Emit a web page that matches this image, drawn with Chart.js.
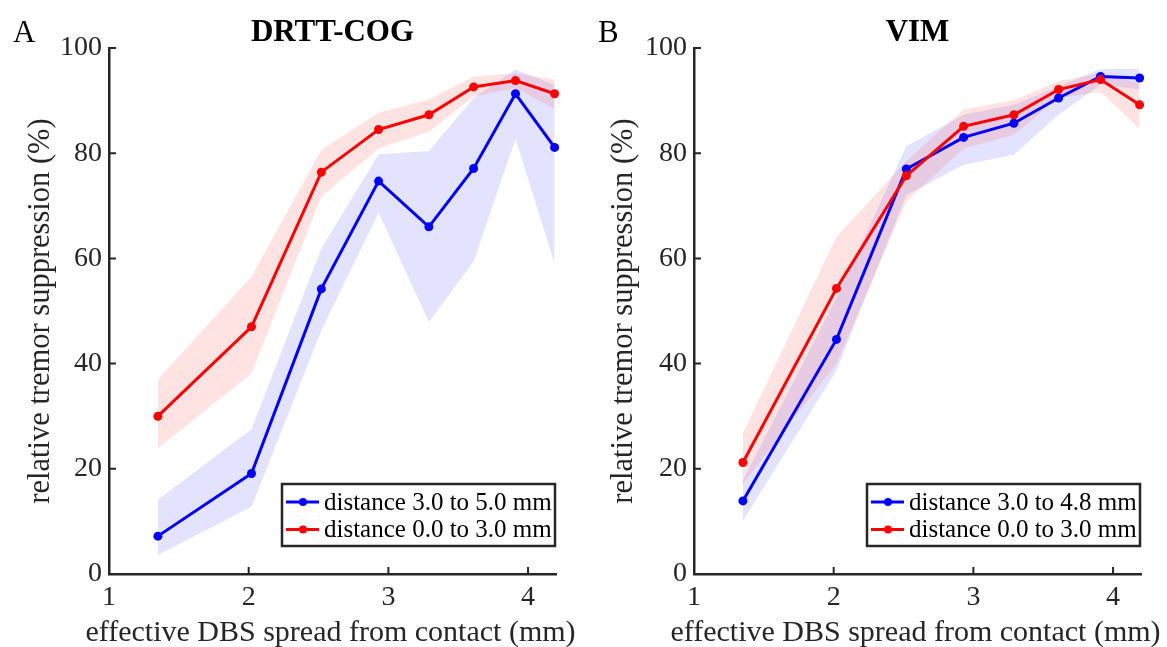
<!DOCTYPE html>
<html>
<head>
<meta charset="utf-8">
<script src="https://cdn.jsdelivr.net/npm/chart.js@4.4.0/dist/chart.umd.min.js"></script>
<style>
  html, body { margin: 0; padding: 0; background: #fff; }
  #wrap { position: relative; width: 1167px; height: 647px; }
  canvas { position: absolute; top: 0; }
</style>
</head>
<body>
<div id="wrap">
  <canvas id="chartDrtt" width="583" height="647" style="left:0;width:583px;height:647px"></canvas>
  <canvas id="chartVim" width="584" height="647" style="left:583px;width:584px;height:647px"></canvas>
</div>
<script>
// effective DBS spread (mm), shared by both panels
const SPREAD_MM = [1.35, 2.02, 2.52, 2.93, 3.29, 3.61, 3.91, 4.19];
const X_TICKS = [1, 2, 3, 4];
const X_TITLE = 'effective DBS spread from contact (mm)';
const Y_TITLE = 'relative tremor suppression (%)';

// panel A: DRTT-COG
const DRTT_FAR_MEAN = [7.2, 19.1, 54.2, 74.7, 66.0, 77.1, 91.3, 81.1];
const DRTT_FAR_LO = [3.6, 12.8, 46.3, 68.7, 47.9, 59.4, 82.7, 59.0];
const DRTT_FAR_HI = [14.1, 27.5, 61.9, 79.8, 80.4, 90.5, 95.9, 93.0];
const DRTT_NEAR_MEAN = [30.0, 47.0, 76.4, 84.5, 87.3, 92.6, 93.8, 91.3];
const DRTT_NEAR_LO = [23.9, 38.1, 71.7, 80.9, 84.1, 90.8, 92.4, 88.4];
const DRTT_NEAR_HI = [37.0, 56.5, 80.6, 87.7, 90.2, 94.6, 95.2, 94.0];

// panel B: VIM
const VIM_FAR_MEAN = [13.9, 44.6, 77.0, 83.0, 85.7, 90.5, 94.6, 94.3];
const VIM_FAR_LO = [10.1, 38.7, 72.0, 77.8, 79.7, 87.3, 93.0, 92.1];
const VIM_FAR_HI = [17.8, 52.5, 81.3, 87.3, 89.2, 92.7, 96.0, 96.0];
const VIM_NEAR_MEAN = [21.2, 54.3, 75.7, 85.1, 87.3, 92.1, 94.0, 89.2];
const VIM_NEAR_LO = [17.1, 40.0, 70.8, 80.9, 83.5, 90.5, 91.7, 84.6];
const VIM_NEAR_HI = [26.8, 64.1, 78.5, 88.3, 90.1, 93.7, 95.2, 93.3];

const BLUE = '#0000ff';
const RED = '#ff0000';
const BLUE_BAND = 'rgba(0, 0, 255, 0.11)';
const RED_BAND = 'rgba(255, 0, 0, 0.11)';
const AXIS_COLOR = '#262626';
const SERIF = "'Liberation Serif', 'Times New Roman', serif";
const TICK_LEN = 7;

const toPoints = (values) => values.map((y, i) => ({ x: SPREAD_MM[i], y }));

function lineSet(label, values, color, order) {
  return {
    label,
    data: toPoints(values),
    borderColor: color,
    backgroundColor: color,
    borderWidth: 3,
    pointRadius: 4.5,
    pointBorderWidth: 0,
    pointBackgroundColor: color,
    fill: false,
    clip: false,
    order,
  };
}

function bandSets(lo, hi, color, order) {
  return [
    { band: true, data: toPoints(hi), borderWidth: 0, pointRadius: 0, backgroundColor: color, fill: '+1', order },
    { band: true, data: toPoints(lo), borderWidth: 0, pointRadius: 0, backgroundColor: color, fill: false, order },
  ];
}

// letter, title, x label, inward ticks and the framed legend in the lower right
const panelDecor = {
  id: 'panelDecor',
  afterDatasetsDraw(chart, args, opts) {
    const { ctx, chartArea, scales } = chart;
    ctx.save();
    ctx.strokeStyle = AXIS_COLOR;
    ctx.lineWidth = 2;
    ctx.beginPath();
    scales.x.ticks.forEach((t) => {
      const px = scales.x.getPixelForValue(t.value);
      ctx.moveTo(px, chartArea.bottom);
      ctx.lineTo(px, chartArea.bottom - TICK_LEN);
    });
    scales.y.ticks.forEach((t) => {
      const py = scales.y.getPixelForValue(t.value);
      ctx.moveTo(chartArea.left, py);
      ctx.lineTo(chartArea.left + TICK_LEN, py);
    });
    ctx.stroke();

    // legend box
    const boxW = 273;
    const boxH = 62;
    const bx = chartArea.right - boxW - 1;
    const by = chartArea.bottom - 28 - boxH;
    ctx.fillStyle = '#fff';
    ctx.fillRect(bx, by, boxW, boxH);
    ctx.lineWidth = 2.5;
    ctx.strokeRect(bx, by, boxW, boxH);
    const entries = chart.data.datasets.filter((ds) => !ds.band);
    ctx.font = `25px ${SERIF}`;
    ctx.textBaseline = 'middle';
    ctx.textAlign = 'left';
    entries.forEach((ds, i) => {
      const ry = by + 18 + i * 27.5;
      ctx.strokeStyle = ds.borderColor;
      ctx.lineWidth = 3;
      ctx.beginPath();
      ctx.moveTo(bx + 4, ry);
      ctx.lineTo(bx + 37, ry);
      ctx.stroke();
      ctx.fillStyle = ds.borderColor;
      ctx.beginPath();
      ctx.arc(bx + 21, ry, 4, 0, Math.PI * 2);
      ctx.fill();
      ctx.fillStyle = '#000';
      ctx.fillText(ds.label, bx + 42, ry + 1);
    });

    // x axis label (wider than the plot, so not squeezed into it)
    ctx.fillStyle = AXIS_COLOR;
    ctx.textAlign = 'center';
    ctx.textBaseline = 'alphabetic';
    ctx.font = `30px ${SERIF}`;
    ctx.fillText(X_TITLE, (chartArea.left + chartArea.right) / 2 - 2, 641);

    // panel letter and title
    ctx.fillStyle = '#000';
    ctx.textAlign = 'left';
    ctx.font = `31px ${SERIF}`;
    ctx.fillText(opts.letter, opts.letterX, 42);
    ctx.font = `bold 31px ${SERIF}`;
    ctx.textAlign = 'center';
    ctx.fillText(opts.title, (chartArea.left + chartArea.right) / 2, 41);
    ctx.restore();
  },
};

function makePanel(canvasId, cfg) {
  const canvas = document.getElementById(canvasId);
  if (!canvas) {
    return;
  }
  const tickFont = { family: SERIF, size: 28 };

  new Chart(canvas.getContext('2d'), {
    type: 'line',
    data: {
      datasets: [
        lineSet(cfg.farLabel, cfg.farMean, BLUE, 2),
        lineSet('distance 0.0 to 3.0 mm', cfg.nearMean, RED, 1),
        ...bandSets(cfg.farLo, cfg.farHi, BLUE_BAND, 4),
        ...bandSets(cfg.nearLo, cfg.nearHi, RED_BAND, 3),
      ],
    },
    options: {
      responsive: false,
      animation: false,
      layout: { padding: { left: 0, right: cfg.padRight, top: 48, bottom: 0 } },
      elements: { line: { tension: 0 } },
      plugins: {
        legend: { display: false },
        tooltip: { enabled: false },
        panelDecor: { letter: cfg.letter, letterX: cfg.letterX, title: cfg.title },
      },
      scales: {
        x: {
          type: 'linear',
          min: 1,
          max: 4.2,
          afterBuildTicks(scale) {
            scale.ticks = X_TICKS.map((value) => ({ value }));
          },
          afterFit(scale) {
            scale.height = 73;
          },
          grid: { display: false, drawTicks: false },
          border: { display: true, color: AXIS_COLOR, width: 2.5 },
          ticks: { font: tickFont, color: AXIS_COLOR, padding: 7, maxRotation: 0 },
        },
        y: {
          min: 0,
          max: 100,
          afterFit(scale) {
            scale.width = cfg.yWidth;
          },
          grid: { display: false, drawTicks: false },
          border: { display: true, color: AXIS_COLOR, width: 2.5 },
          ticks: { stepSize: 20, font: tickFont, color: AXIS_COLOR, padding: 7 },
          title: {
            display: true,
            text: Y_TITLE,
            font: { family: SERIF, size: 30.5, lineHeight: 1 },
            color: AXIS_COLOR,
            padding: { top: 26, bottom: 0 },
          },
        },
      },
    },
    plugins: [panelDecor],
  });
}

makePanel('chartDrtt', {
  letter: 'A',
  letterX: 13,
  title: 'DRTT-COG',
  farLabel: 'distance 3.0 to 5.0 mm',
  farMean: DRTT_FAR_MEAN,
  farLo: DRTT_FAR_LO,
  farHi: DRTT_FAR_HI,
  nearMean: DRTT_NEAR_MEAN,
  nearLo: DRTT_NEAR_LO,
  nearHi: DRTT_NEAR_HI,
  yWidth: 109,
  padRight: 27,
});

makePanel('chartVim', {
  letter: 'B',
  letterX: 15,
  title: 'VIM',
  farLabel: 'distance 3.0 to 4.8 mm',
  farMean: VIM_FAR_MEAN,
  farLo: VIM_FAR_LO,
  farHi: VIM_FAR_HI,
  nearMean: VIM_NEAR_MEAN,
  nearLo: VIM_NEAR_LO,
  nearHi: VIM_NEAR_HI,
  yWidth: 111,
  padRight: 26,
});
</script>
</body>
</html>
